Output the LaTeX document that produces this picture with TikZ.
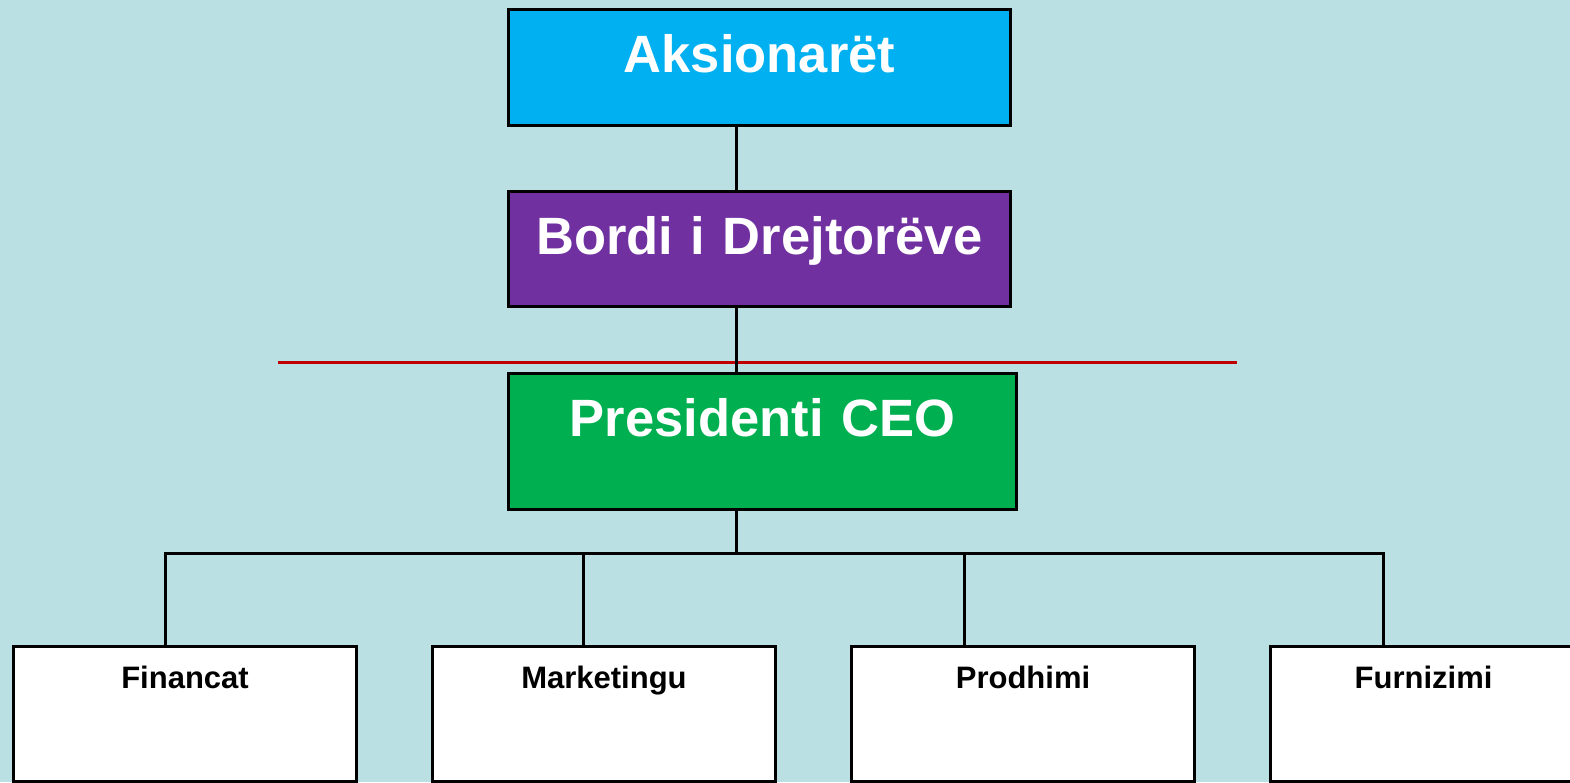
\documentclass[tikz,border=0pt]{standalone}
\usepackage{fontspec}
\setmainfont{Liberation Sans}
\definecolor{bg}{RGB}{186,224,227}
\definecolor{topc}{RGB}{0,176,240}
\definecolor{boardc}{RGB}{112,48,160}
\definecolor{ceoc}{RGB}{0,176,80}
\definecolor{redl}{RGB}{192,0,0}
\begin{document}
\begin{tikzpicture}[x=1pt,y=-1pt,
  box/.style={draw=black,line width=3pt,rectangle,inner sep=0pt,anchor=north west,font=\bfseries},
  bigbox/.style={box,text=white,font=\fontsize{52.5}{60}\selectfont\bfseries,text height=63pt},
  dept/.style={box,fill=white,font=\fontsize{31}{36}\selectfont\bfseries,minimum width=343pt,text width=343pt,align=center,text height=42pt,text depth=93pt},
  conn/.style={draw=black,line width=3pt}]
\useasboundingbox (0,0) rectangle (1570,782);
\fill[bg] (0,0) rectangle (1570,782);
\clip (0,0) rectangle (1570,782);
% top boxes
\node[bigbox,fill=topc,minimum width=502pt,text width=502pt,align=center,text depth=53pt] (a) at (507,8) {Aksionarët};
\node[bigbox,fill=boardc,minimum width=502pt,text width=502pt,align=center,text depth=52pt] (b) at (507,190) {Bordi i Drejtorëve};
\node[bigbox,fill=ceoc,minimum width=508pt,text width=508pt,align=center,text depth=73pt] (c) at (507,372) {Presidenti CEO};
% departments
\node[dept] (f) at (12,645) {Financat};
\node[dept] (m) at (431,645) {Marketingu};
\node[dept] (p) at (850,645) {Prodhimi};
\node[dept,minimum width=306pt,text width=306pt] (u) at (1269,645) {Furnizimi};
% red line
\coordinate (rl) at (278,362);
\coordinate (rr) at (1237,362);
\draw[redl,line width=3pt] (rl) -- (rr);
% connectors
\coordinate (trunk) at (736,0);
\coordinate (dF) at (165,553);
\coordinate (dM) at (583,553);
\coordinate (dP) at (964,553);
\coordinate (dU) at (1383,553);
\draw[conn] (a.south -| trunk) -- (b.north -| trunk);
\draw[conn] (b.south -| trunk) -- (c.north -| trunk);
\draw[conn] (c.south -| trunk) -- (dF -| trunk);
\draw[conn,line cap=rect] (dF) -- (dU);
\draw[conn] (dF) -- (dF |- f.north);
\draw[conn] (dM) -- (dM |- m.north);
\draw[conn] (dP) -- (dP |- p.north);
\draw[conn] (dU) -- (dU |- u.north);
\end{tikzpicture}
\end{document}
